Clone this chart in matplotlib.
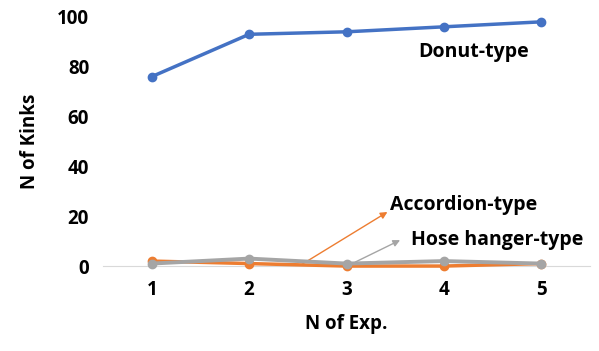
import matplotlib.pyplot as plt

plt.rcParams['font.family'] = ['Open Sans', 'DejaVu Sans']

exp = [1, 2, 3, 4, 5]
donut = [76, 93, 94, 96, 98]
accordion = [2, 1, 0, 0, 1]
hose = [1, 3, 1, 2, 1]

fig = plt.figure(figsize=(5.99, 3.51), dpi=100)
ax = fig.add_axes([0.172, 0.242, 0.813, 0.71])

ax.plot(exp, donut, color="#4472C4", lw=2.5, marker="o", ms=6, clip_on=False, zorder=3)
ax.plot(exp, accordion, color="#ED7D31", lw=2.5, marker="o", ms=6, clip_on=False, zorder=3)
ax.plot(exp, hose, color="#A5A5A5", lw=2.8, marker="o", ms=6, clip_on=False, zorder=4)

ax.set_xlim(0.5, 5.5)
ax.set_ylim(0, 100)
ax.set_xticks(exp)
ax.set_yticks([0, 20, 40, 60, 80, 100])
for s in ["top", "right", "left"]:
    ax.spines[s].set_visible(False)
ax.spines["bottom"].set_color("#D9D9D9")
ax.tick_params(length=0, labelsize=13.5, pad=10)
for t in ax.get_xticklabels() + ax.get_yticklabels():
    t.set_fontweight("bold")

ax.set_xlabel("N of Exp.", fontsize=13.5, fontweight="bold", labelpad=10)
ax.set_ylabel("N of Kinks", fontsize=13.5, fontweight="bold", labelpad=12)

ax.text(3.74, 86, "Donut-type", fontsize=14, fontweight="bold", va="center")
ax.annotate("", xy=(3.42, 21.7), xytext=(2.53, 0.4),
            arrowprops=dict(arrowstyle="-|>", color="#ED7D31", lw=1, shrinkA=0, shrinkB=0))
ax.text(3.45, 24.5, "Accordion-type", fontsize=14, fontweight="bold", va="center")
ax.annotate("", xy=(3.55, 10.4), xytext=(3.09, 1.6),
            arrowprops=dict(arrowstyle="-|>", color="#A5A5A5", lw=1, shrinkA=0, shrinkB=0))
ax.text(3.66, 10.4, "Hose hanger-type", fontsize=14, fontweight="bold", va="center")

fig.savefig("out.png", dpi=100)
